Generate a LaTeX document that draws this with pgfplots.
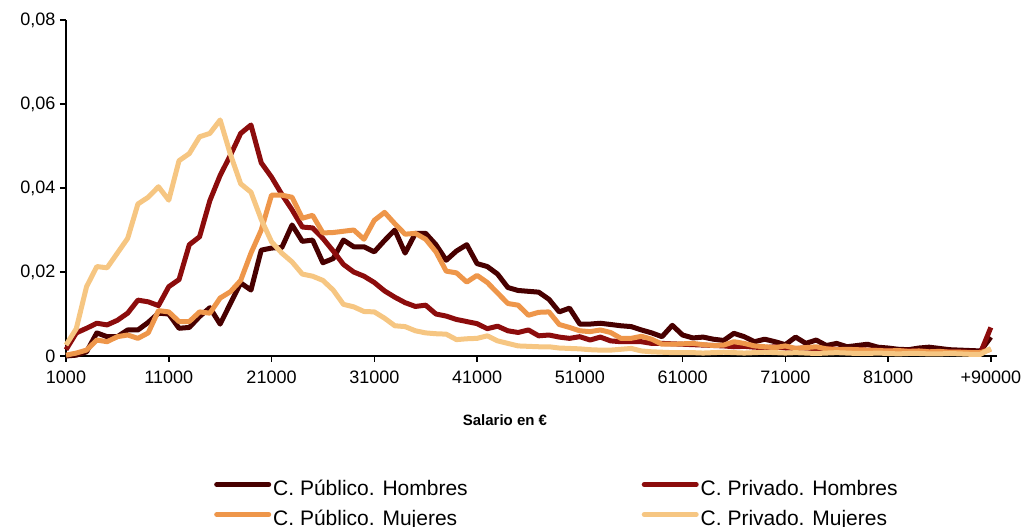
\documentclass[border=0pt]{standalone}
\usepackage{fontspec}
\setmainfont{Liberation Sans}
\usepackage{pgfplots}
\usepackage{pgfplotstable}
\pgfplotsset{compat=1.18}
\definecolor{pubh}{RGB}{72,0,0}
\definecolor{ph}{RGB}{140,12,12}
\definecolor{pubm}{RGB}{238,150,74}
\definecolor{pm}{RGB}{246,198,130}
\pgfplotstableread{
i pubh ph pubm pm
0 0.0000 0.0015 0.0002 0.0026
1 0.0002 0.0055 0.0007 0.0065
2 0.0010 0.0066 0.0014 0.0165
3 0.0055 0.0078 0.0038 0.0213
4 0.0046 0.0074 0.0034 0.0210
5 0.0046 0.0085 0.0046 0.0245
6 0.0062 0.0102 0.0050 0.0280
7 0.0062 0.0133 0.0042 0.0362
8 0.0080 0.0129 0.0055 0.0378
9 0.0102 0.0120 0.0108 0.0403
10 0.0100 0.0165 0.0105 0.0371
11 0.0066 0.0182 0.0082 0.0465
12 0.0068 0.0265 0.0082 0.0482
13 0.0094 0.0284 0.0105 0.0522
14 0.0115 0.0370 0.0102 0.0530
15 0.0076 0.0430 0.0138 0.0562
16 0.0125 0.0478 0.0153 0.0480
17 0.0174 0.0530 0.0180 0.0410
18 0.0157 0.0550 0.0245 0.0390
19 0.0252 0.0460 0.0300 0.0325
20 0.0257 0.0426 0.0383 0.0272
21 0.0258 0.0385 0.0383 0.0245
22 0.0312 0.0348 0.0378 0.0224
23 0.0273 0.0307 0.0328 0.0195
24 0.0276 0.0305 0.0335 0.0190
25 0.0222 0.0280 0.0293 0.0180
26 0.0232 0.0250 0.0294 0.0157
27 0.0276 0.0218 0.0297 0.0123
28 0.0260 0.0200 0.0300 0.0117
29 0.0260 0.0190 0.0278 0.0106
30 0.0248 0.0175 0.0323 0.0105
31 0.0275 0.0155 0.0342 0.0090
32 0.0300 0.0140 0.0315 0.0072
33 0.0245 0.0127 0.0290 0.0070
34 0.0292 0.0118 0.0292 0.0060
35 0.0292 0.0121 0.0278 0.0055
36 0.0265 0.0100 0.0248 0.0053
37 0.0228 0.0095 0.0202 0.0052
38 0.0250 0.0087 0.0198 0.0039
39 0.0265 0.0082 0.0176 0.0041
40 0.0220 0.0077 0.0192 0.0042
41 0.0213 0.0065 0.0175 0.0048
42 0.0195 0.0071 0.0150 0.0036
43 0.0163 0.0060 0.0125 0.0030
44 0.0156 0.0056 0.0121 0.0024
45 0.0154 0.0062 0.0097 0.0023
46 0.0152 0.0048 0.0104 0.0022
47 0.0135 0.0050 0.0105 0.0022
48 0.0105 0.0045 0.0075 0.0019
49 0.0114 0.0042 0.0068 0.0018
50 0.0076 0.0046 0.0060 0.0017
51 0.0076 0.0038 0.0058 0.0015
52 0.0078 0.0045 0.0062 0.0014
53 0.0075 0.0036 0.0056 0.0014
54 0.0072 0.0034 0.0042 0.0016
55 0.0070 0.0034 0.0042 0.0018
56 0.0062 0.0034 0.0047 0.0012
57 0.0055 0.0030 0.0040 0.0010
58 0.0046 0.0030 0.0028 0.0009
59 0.0073 0.0029 0.0028 0.0008
60 0.0050 0.0028 0.0029 0.0008
61 0.0043 0.0027 0.0030 0.0008
62 0.0045 0.0026 0.0027 0.0007
63 0.0040 0.0025 0.0025 0.0008
64 0.0037 0.0024 0.0026 0.0009
65 0.0054 0.0022 0.0034 0.0008
66 0.0046 0.0023 0.0030 0.0007
67 0.0034 0.0021 0.0024 0.0008
68 0.0040 0.0020 0.0022 0.0009
69 0.0034 0.0022 0.0020 0.0008
70 0.0027 0.0019 0.0024 0.0007
71 0.0045 0.0018 0.0018 0.0008
72 0.0030 0.0019 0.0020 0.0007
73 0.0038 0.0017 0.0022 0.0006
74 0.0025 0.0018 0.0017 0.0007
75 0.0030 0.0016 0.0015 0.0008
76 0.0022 0.0015 0.0016 0.0007
77 0.0025 0.0016 0.0015 0.0006
78 0.0028 0.0014 0.0014 0.0006
79 0.0021 0.0014 0.0013 0.0007
80 0.0019 0.0013 0.0012 0.0006
81 0.0016 0.0013 0.0013 0.0005
82 0.0015 0.0012 0.0011 0.0006
83 0.0019 0.0012 0.0012 0.0006
84 0.0021 0.0011 0.0010 0.0005
85 0.0018 0.0011 0.0011 0.0005
86 0.0015 0.0010 0.0009 0.0006
87 0.0014 0.0010 0.0009 0.0005
88 0.0013 0.0009 0.0008 0.0004
89 0.0012 0.0008 0.0008 0.0004
90 0.0045 0.0068 0.0016 0.0018
}\data
\begin{document}
\begin{tikzpicture}
\path[use as bounding box] (0pt,0pt) rectangle (1028pt,527pt);
\begin{axis}[
  at={(66pt,171pt)}, anchor=south west,
  scale only axis, width=931pt, height=336pt,
  xmin=0, xmax=90.6, ymin=0, ymax=0.08,
  axis x line=bottom, axis y line=left,
  axis line style={-, black, line width=1.5pt},
  clip=false,
  xtick={0,10,...,90},
  xticklabels={1000,11000,21000,31000,41000,51000,61000,71000,81000,+90000},
  ytick={0,0.02,0.04,0.06,0.08},
  yticklabels={0,{0,02},{0,04},{0,06},{0,08}},
  scaled y ticks=false,
  /pgf/number format/assume math mode=true,
  tick align=outside, major tick length=6pt,
  tick style={black, line width=1.5pt},
  ticklabel style={font=\fontsize{18}{20}\selectfont},
  x tick label style={yshift=-5pt},
  y tick label style={xshift=-1pt},
  xlabel={Salario en €},
  xlabel style={font=\bfseries\fontsize{15}{17}\selectfont, at={(axis description cs:0.4715,-0.19)}, anchor=center},
  no markers,
  legend columns=2,
  legend cell align=left,
  legend image code/.code={\draw[#1, line width=5pt, line cap=round] (0pt,5pt) -- (52pt,5pt);},
  legend style={draw=none, fill=none, inner sep=0pt, row sep=7pt,
    at={(axis description cs:0.159,-0.442)}, anchor=west,
    font=\fontsize{21}{24}\selectfont,
    nodes={inner sep=2pt, text height=15pt, text depth=4pt},
    /tikz/every even column/.append style={column sep=172pt}},
]
\addplot[pubh, line width=5pt, line join=round] table[x=i, y=pubh] {\data};
\addlegendentry{C. Público. Hombres}
\addplot[ph, line width=5pt, line join=round] table[x=i, y=ph] {\data};
\addlegendentry{C. Privado. Hombres}
\addplot[pubm, line width=5pt, line join=round] table[x=i, y=pubm] {\data};
\addlegendentry{C. Público. Mujeres}
\addplot[pm, line width=5pt, line join=round] table[x=i, y=pm] {\data};
\addlegendentry{C. Privado. Mujeres}
\end{axis}
\end{tikzpicture}
\end{document}
